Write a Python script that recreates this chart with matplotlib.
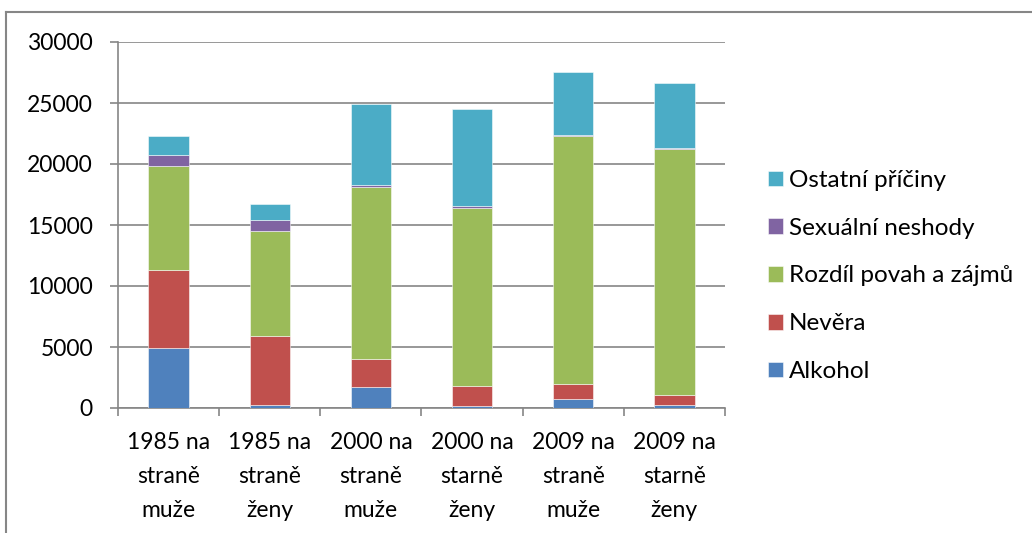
import matplotlib
matplotlib.use("Agg")
import matplotlib.pyplot as plt
from matplotlib.lines import Line2D
import numpy as np

categories = ["1985 na\nstraně\nmuže", "1985 na\nstraně\nženy", "2000 na\nstraně\nmuže",
              "2000 na\nstarně\nženy", "2009 na\nstraně\nmuže", "2009 na\nstarně\nženy"]
series_names = ["Alkohol", "Nevěra", "Rozdíl povah a zájmů", "Sexuální neshody", "Ostatní příčiny"]
alkohol = [4900, 220, 1690, 140, 770, 220]
nevera = [6400, 5710, 2350, 1690, 1220, 850]
rozdil = [8500, 8550, 14070, 14590, 20330, 20190]
sexualni = [930, 930, 140, 160, 30, 80]
ostatni = [1560, 1280, 6640, 7930, 5220, 5300]
colors = ["#4F81BD", "#C0504D", "#9BBB59", "#8064A2", "#4BACC6"]

plt.rcParams['font.family'] = ['Lato', 'DejaVu Sans']
fig = plt.figure(figsize=(10.32, 5.33), dpi=100)
ax = fig.add_axes([118/1032, 1-408/533, (725-118)/1032, (408-42)/533])

x = np.arange(len(categories))
bottom = np.zeros(len(categories))
handles = []
for name, vals, c in zip(series_names, [alkohol, nevera, rozdil, sexualni, ostatni], colors):
    b = ax.bar(x, vals, 0.4, bottom=bottom, color=c, edgecolor=(1, 1, 1, 0.6), linewidth=0.6,
               label=name, zorder=3)
    handles.append(b)
    bottom += np.array(vals)

ax.set_xlim(-0.5, len(categories) - 0.5)
ax.set_ylim(0, 30000)
ax.set_yticks(range(0, 30001, 5000))
ax.yaxis.grid(True, color="#868686", linewidth=1.2, zorder=0)
ax.set_axisbelow(True)
for s in ["top", "right"]:
    ax.spines[s].set_visible(False)
for s in ["left", "bottom"]:
    ax.spines[s].set_color("#868686")
    ax.spines[s].set_linewidth(1.2)
ax.set_xticks(np.arange(-0.5, len(categories)), minor=False)
ax.set_xticklabels([])
ax.set_xticks(x, minor=True)
ax.set_xticklabels(categories, minor=True, fontsize=16.5, linespacing=1.78)
ax.tick_params(axis="x", which="major", length=6, color="#868686", width=1.2, direction="out")
ax.tick_params(axis="x", which="minor", length=0, pad=17)
ax.tick_params(axis="y", length=6, color="#868686", width=1.2, labelsize=16.5, pad=12)

fig.legend(handles[::-1], series_names[::-1], loc="center left",
           bbox_to_anchor=(768/1032, 1-276/533), frameon=False, fontsize=17.5,
           labelspacing=1.1, handlelength=0.62, handleheight=0.62, handletextpad=0.25,
           borderpad=0, borderaxespad=0)

fig.add_artist(Line2D([6/1032, 1], [1-12/533, 1-12/533], color="#868686", linewidth=1.5,
                      transform=fig.transFigure))
fig.add_artist(Line2D([6/1032, 6/1032], [0, 1-12/533], color="#868686", linewidth=1.5,
                      transform=fig.transFigure))

fig.savefig("out.png", dpi=100)
